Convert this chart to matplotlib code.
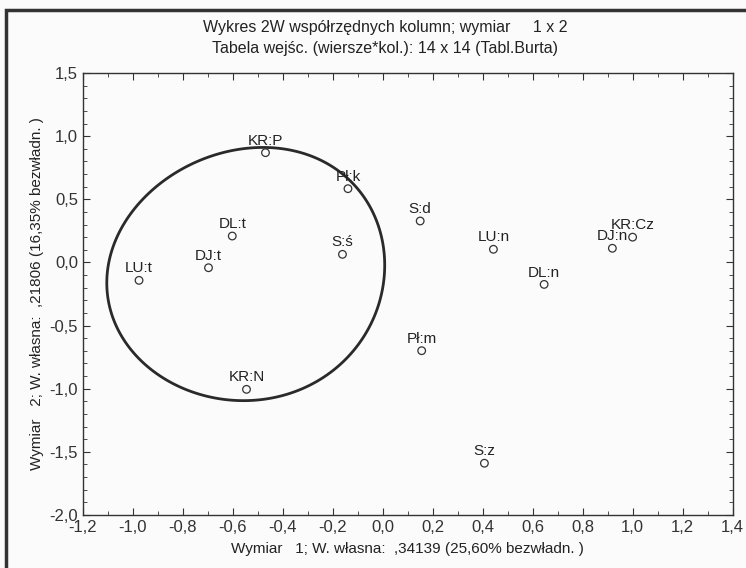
import matplotlib.pyplot as plt
import numpy as np
from matplotlib.ticker import MultipleLocator, FuncFormatter
from matplotlib.patches import Rectangle, Polygon

plt.rcParams['font.family'] = ['Liberation Sans', 'DejaVu Sans']

# column coordinates, dimension 1 and 2
labels = ["KR:P", "Pł:k", "DL:t", "S:ś", "DJ:t", "LU:t", "S:d", "LU:n",
          "DJ:n", "KR:Cz", "DL:n", "Pł:m", "KR:N", "S:z"]
dim1 = [-0.469, -0.139, -0.602, -0.161, -0.697, -0.975, 0.150, 0.443,
        0.919, 1.000, 0.646, 0.156, -0.545, 0.407]
dim2 = [0.869, 0.584, 0.209, 0.064, -0.042, -0.142, 0.328, 0.104,
        0.112, 0.200, -0.174, -0.699, -1.005, -1.590]

# hand-drawn grouping loop (centre, half-widths, tilt, skew)
ell_cx, ell_cy = -0.548, -0.092
ell_ax, ell_by = 0.556, 1.0
ell_tilt = 0.07
ell_skew = 0.03

fig = plt.figure(figsize=(7.46, 5.68), dpi=100)
fig.patch.set_facecolor("#fbfbfb")
ax = fig.add_axes([0.111, 0.0933, 0.871, 0.7782])
ax.set_facecolor("#fbfbfb")

ax.scatter(dim1, dim2, s=30, facecolors="none", edgecolors="#333333", linewidths=0.9, zorder=3)
for lab, x, y in zip(labels, dim1, dim2):
    ax.annotate(lab, (x, y), xytext=(0, 3.5), textcoords="offset points",
                ha="center", va="bottom", fontsize=11, color="#222222")

t = np.linspace(0, 2 * np.pi, 400, endpoint=False)
ex = ell_cx + ell_ax * np.cos(t) + ell_skew * np.sin(t) ** 2
ey = ell_cy + ell_by * np.sin(t) + ell_tilt * np.cos(t)
ax.add_patch(Polygon(np.column_stack([ex, ey]), closed=True, fill=False,
                     edgecolor="#2a2a2a", linewidth=2))

ax.set_xlim(-1.2, 1.4)
ax.set_ylim(-2.0, 1.5)
ax.xaxis.set_major_locator(MultipleLocator(0.2))
ax.xaxis.set_minor_locator(MultipleLocator(0.1))
ax.yaxis.set_major_locator(MultipleLocator(0.5))
ax.yaxis.set_minor_locator(MultipleLocator(0.1))
fmt = FuncFormatter(lambda v, p: f"{v:.1f}".replace(".", ",").replace("-0,0", "0,0"))
ax.xaxis.set_major_formatter(fmt)
ax.yaxis.set_major_formatter(fmt)
ax.tick_params(which="both", direction="in", top=True, right=True, colors="#333333", labelsize=12)
ax.tick_params(which="major", length=5)
ax.tick_params(which="minor", length=3)
for s in ax.spines.values():
    s.set_color("#333333")
    s.set_linewidth(1.0)

ax.set_xlabel("Wymiar   1; W. własna:  ,34139 (25,60% bezwładn. )", fontsize=11, labelpad=5, color="#222222")
ax.set_ylabel("Wymiar   2; W. własna:  ,21806 (16,35% bezwładn. )", fontsize=11, labelpad=4, color="#222222")
fig.text(0.516, 0.952, "Wykres 2W współrzędnych kolumn; wymiar     1 x 2", ha="center", va="center", fontsize=11.5, color="#222222")
fig.text(0.516, 0.915, "Tabela wejśc. (wiersze*kol.): 14 x 14 (Tabl.Burta)", ha="center", va="center", fontsize=11.5, color="#222222")

# outer frame of the scanned figure
fig.patches.append(Rectangle((0.008, -0.05), 1.2, 1.032, transform=fig.transFigure,
                             fill=False, edgecolor="#333333", linewidth=2.5))

fig.savefig("out.png", dpi=100, facecolor=fig.get_facecolor())
